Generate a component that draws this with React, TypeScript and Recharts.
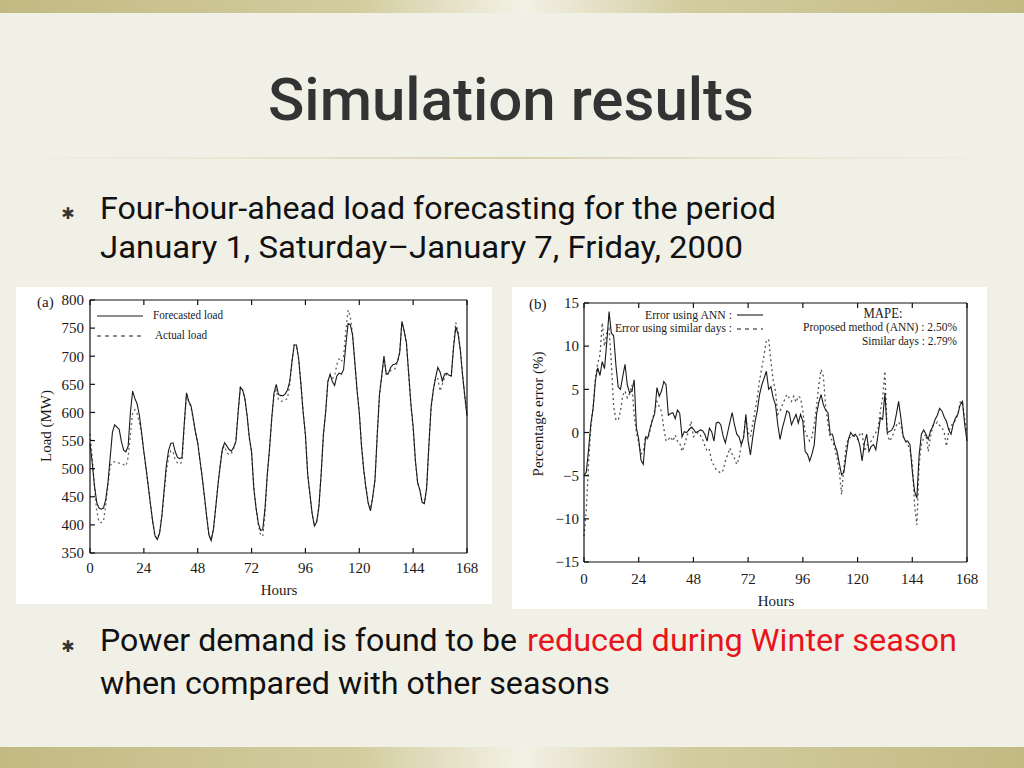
import React from 'react';
import { LineChart, Line, XAxis, YAxis } from 'recharts';

// ---------- data ----------
const HOUR_TICKS = [0, 24, 48, 72, 96, 120, 144, 168];
const LOAD_TICKS = [350, 400, 450, 500, 550, 600, 650, 700, 750, 800];
const ERROR_TICKS = [-15, -10, -5, 0, 5, 10, 15];

// hourly values, hour 0 .. 168
const FORECASTED_LOAD = [
  545, 510, 470, 440, 430, 428, 430, 445, 475, 520, 565, 578, 574, 570, 548, 533, 530, 540, 600, 638, 625, 615, 595, 564, 530,
  500, 468, 435, 404, 380, 374, 385, 415, 460, 505, 532, 545, 546, 530, 520, 518, 520, 580, 635, 620, 612, 590, 565, 546,
  515, 485, 450, 415, 382, 372, 392, 430, 470, 505, 535, 546, 540, 534, 531, 538, 548, 600, 645, 640, 625, 595, 555, 530,
  465, 430, 403, 390, 392, 430, 490, 535, 590, 635, 650, 632, 630, 630, 633, 640, 655, 690, 720, 720, 695, 650, 600, 560,
  490, 455, 420, 398, 405, 432, 490, 560, 600, 655, 668, 655, 648, 665, 670, 668, 676, 720, 758, 756, 738, 690, 640, 600,
  540, 497, 465, 438, 425, 450, 480, 560, 632, 665, 700, 668, 670, 680, 685, 686, 690, 706, 762, 745, 724, 670, 615, 575,
  515, 475, 462, 440, 438, 465, 540, 610, 640, 662, 680, 672, 656, 668, 670, 666, 665, 715, 752, 740, 712, 668, 630, 594,
];

const ACTUAL_LOAD = [
  562, 520, 465, 425, 405, 404, 406, 435, 470, 505, 512, 512, 511, 510, 510, 507, 505, 520, 560, 600, 605, 598, 582, 560, 530,
  500, 468, 435, 404, 380, 376, 386, 415, 455, 495, 520, 532, 530, 515, 510, 508, 512, 575, 632, 618, 610, 588, 565, 546,
  515, 485, 450, 415, 382, 374, 392, 430, 470, 505, 535, 540, 528, 525, 527, 535, 548, 600, 645, 640, 625, 595, 555, 530,
  465, 430, 400, 382, 380, 420, 488, 535, 590, 630, 640, 622, 620, 620, 622, 625, 650, 690, 720, 718, 695, 650, 600, 560,
  490, 455, 420, 398, 405, 432, 490, 560, 600, 655, 665, 660, 665, 685, 695, 690, 700, 745, 782, 770, 740, 690, 640, 600,
  540, 497, 465, 440, 428, 450, 480, 560, 630, 665, 700, 668, 668, 675, 676, 678, 690, 706, 760, 745, 724, 670, 612, 570,
  512, 475, 462, 440, 438, 465, 540, 608, 640, 662, 660, 638, 650, 662, 668, 666, 665, 720, 760, 745, 712, 668, 630, 594,
];

const ERROR_ANN = [
  -5.0, -4.6, -2.0, 1.0, 2.8, 6.0, 7.5, 6.6, 8.2, 7.4, 10.5, 14.0, 11.5, 11.2, 7.8, 5.3, 5.0, 6.5, 7.9, 5.5, 4.6, 4.8, 6.1, 0.5, -0.8,
  -3.2, -3.7, -0.5, -0.6, 0.5, 1.4, 2.2, 5.2, 4.2, 4.8, 5.9, 5.5, 2.0, 2.2, 2.3, 1.6, 2.6, 2.2, -0.5, 0.1, 0.0, 0.3, 0.6, 0.4,
  0.0, 0.1, 0.3, 0.2, -0.2, -1.0, 0.5, 0.1, -1.0, 1.1, 1.2, 0.9, -0.4, -1.2, 0.0, 1.2, 2.3, 0.9, -0.2, -0.5, -1.4, -0.6, 2.1, -1.0,
  -2.6, -0.6, 1.2, 2.5, 4.4, 5.5, 6.3, 7.1, 5.0, 5.3, 4.0, 3.2, 0.9, -0.8, 0.5, 1.5, 2.5, 2.3, 0.9, 1.5, 2.1, 1.1, 2.1, 1.3,
  -2.2, -2.5, -3.3, -2.5, -1.4, 2.1, 3.5, 4.4, 3.2, 2.6, 2.3, -0.2, -0.2, -1.4, -2.2, -3.6, -4.9, -4.6, -2.6, -0.8, 0.0, -0.4, -0.2, -0.6,
  -1.5, -3.3, -1.2, -0.2, -2.2, -1.6, -1.4, -2.0, -0.2, 1.7, 1.5, 4.6, 0.0, 0.1, 0.3, 0.8, 2.1, 3.6, 1.7, -0.4, -1.0, -1.0, -1.4, -4.5,
  -6.8, -7.6, -2.6, -0.2, 0.3, -0.2, -0.8, 0.2, 0.7, 1.5, 2.0, 2.8, 2.5, 1.8, 1.3, 0.3, -0.2, 1.0, 1.7, 2.1, 3.2, 3.6, 0.9, -1.0,
];

const ERROR_SIMILAR = [
  -12.0, -9.0, -3.5, 0.5, 3.0, 6.3, 8.0, 9.0, 12.7, 10.0, 11.5, 12.0, 8.0, 3.0, 1.5, 1.4, 2.5, 4.3, 4.8, 4.0, 4.5, 5.5, 2.0, 0.0, -1.2,
  -2.5, -2.2, -0.5, -0.8, 0.3, 1.5, 2.5, 3.6, 3.0, 2.4, 0.5, -1.0, -0.8, -0.5, -1.0, -0.3, -1.0, -1.2, -2.2, -1.5, -0.6, 0.3, 1.3, -0.5,
  -0.2, 0.0, -0.3, -0.8, -1.5, -2.2, -2.0, -3.3, -3.8, -4.3, -4.5, -4.7, -4.4, -3.3, -2.6, -1.8, -2.5, -3.0, -3.7, -3.0, -1.4, -0.5, 1.7, 0.0,
  -0.5, 1.0, 2.5, 4.0, 6.0, 7.5, 9.0, 10.6, 10.8, 8.2, 6.0, 4.8, 2.1, 2.5, 3.2, 3.8, 4.4, 4.0, 3.6, 4.2, 3.5, 4.2, 4.0, 2.5,
  0.1, -0.5, -1.0, -0.5, 1.0, 3.0, 5.5, 7.3, 6.5, 3.0, 1.0, -0.6, -1.0, -1.8, -3.0, -4.5, -7.2, -4.0, -1.5, -0.6, -0.6, -0.4, -0.5, -0.8,
  -0.2, 0.0, -2.2, -1.5, -1.2, -1.0, -0.5, 0.0, 0.5, 2.5, 4.0, 7.1, 0.0, -1.0, -0.6, 0.1, 0.8, 1.2, 0.8, -0.5, -1.0, -1.4, -2.0, -3.5,
  -8.4, -10.7, -3.7, -1.4, -0.6, -0.2, -2.2, -0.5, 0.8, 0.9, 1.2, 0.8, 0.6, 0.0, -1.6, 0.1, 0.8, 1.0, 1.5, 2.1, 3.5, 3.6, 1.5, 0.0,
];

const loadData = FORECASTED_LOAD.map((v, i) => ({ hour: i, forecast: v, actual: ACTUAL_LOAD[i] }));
const errorData = ERROR_ANN.map((v, i) => ({ hour: i, ann: v, similar: ERROR_SIMILAR[i] }));

// ---------- styles ----------
const SERIF = '"Liberation Serif", "DejaVu Serif", serif';
const SANS = 'Roboto, "Liberation Sans", sans-serif';
const tickStyle = { fill: '#1a1a1a', fontSize: 15, fontFamily: SERIF };
const minus = (v: number) => String(v).replace('-', '\u2212');
const blank = () => '';

function LoadChart() {
  return (
    <LineChart width={476} height={317} data={loadData} margin={{ top: 8, right: 20, bottom: 21, left: 20 }}>
      <XAxis xAxisId="b" dataKey="hour" type="number" domain={[0, 168]} ticks={HOUR_TICKS} interval={0}
        tickSize={-5} tickMargin={14} height={30} stroke="#111" strokeWidth={1.2} tick={tickStyle} />
      <XAxis xAxisId="t" orientation="top" dataKey="hour" type="number" domain={[0, 168]} ticks={HOUR_TICKS} interval={0}
        tickSize={-5} height={5} stroke="#111" strokeWidth={1.2} tickFormatter={blank} />
      <YAxis yAxisId="l" type="number" domain={[350, 800]} ticks={LOAD_TICKS} interval={0}
        tickSize={-5} tickMargin={11} width={54} stroke="#111" strokeWidth={1.2} tick={tickStyle} />
      <YAxis yAxisId="r" orientation="right" type="number" domain={[350, 800]} ticks={LOAD_TICKS} interval={0}
        tickSize={-5} width={5} stroke="#111" strokeWidth={1.2} tickFormatter={blank} />
      <Line xAxisId="b" yAxisId="l" type="linear" dataKey="actual" stroke="#666" strokeWidth={1.3}
        strokeDasharray="2 3" dot={false} isAnimationActive={false} />
      <Line xAxisId="b" yAxisId="l" type="linear" dataKey="forecast" stroke="#1a1a1a" strokeWidth={1.1}
        dot={false} isAnimationActive={false} />
    </LineChart>
  );
}

function ErrorChart() {
  return (
    <LineChart width={475} height={322} data={errorData} margin={{ top: 11, right: 15, bottom: 17, left: 18 }}>
      <XAxis xAxisId="b" dataKey="hour" type="number" domain={[0, 168]} ticks={HOUR_TICKS} interval={0}
        tickSize={-5} tickMargin={16} height={30} stroke="#111" strokeWidth={1.2} tick={tickStyle} />
      <XAxis xAxisId="t" orientation="top" dataKey="hour" type="number" domain={[0, 168]} ticks={HOUR_TICKS} interval={0}
        tickSize={-5} height={5} stroke="#111" strokeWidth={1.2} tickFormatter={blank} />
      <YAxis yAxisId="l" type="number" domain={[-15, 15]} ticks={ERROR_TICKS} interval={0}
        tickSize={-5} tickMargin={10} width={54} stroke="#111" strokeWidth={1.2} tick={tickStyle} tickFormatter={minus} />
      <YAxis yAxisId="r" orientation="right" type="number" domain={[-15, 15]} ticks={ERROR_TICKS} interval={0}
        tickSize={-5} width={5} stroke="#111" strokeWidth={1.2} tickFormatter={blank} />
      <Line xAxisId="b" yAxisId="l" type="linear" dataKey="similar" stroke="#555" strokeWidth={1.3}
        strokeDasharray="2 3" dot={false} isAnimationActive={false} />
      <Line xAxisId="b" yAxisId="l" type="linear" dataKey="ann" stroke="#1a1a1a" strokeWidth={1.1}
        dot={false} isAnimationActive={false} />
    </LineChart>
  );
}

export default function App() {
  return (
    <div style={{ position: 'absolute', left: 0, top: 0, width: 1024, height: 768, overflow: 'hidden', background: '#f1f0e7' }}>
      <svg width={1024} height={768} style={{ position: 'absolute', left: 0, top: 0 }}>
        <defs>
          <linearGradient id="bar" x1="0" x2="1" y1="0" y2="0">
            <stop offset="0" stopColor="#c2ba82" />
            <stop offset="0.35" stopColor="#d3cc9f" />
            <stop offset="0.51" stopColor="#f3f1e6" />
            <stop offset="0.67" stopColor="#d3cc9f" />
            <stop offset="1" stopColor="#c2ba82" />
          </linearGradient>
          <linearGradient id="rule" x1="0" x2="1" y1="0" y2="0">
            <stop offset="0" stopColor="#e6e2cc" stopOpacity="0.2" />
            <stop offset="0.5" stopColor="#d6d0ac" />
            <stop offset="1" stopColor="#e6e2cc" stopOpacity="0.2" />
          </linearGradient>
        </defs>
        <rect x={0} y={0} width={1024} height={13} fill="url(#bar)" />
        <rect x={0} y={747} width={1024} height={21} fill="url(#bar)" />
        <rect x={49} y={157} width={925} height={2} fill="url(#rule)" />
        <rect x={16} y={287} width={476} height={317} fill="#ffffff" />
        <rect x={512} y={287} width={475} height={322} fill="#ffffff" />
      </svg>

      <div style={{ position: 'absolute', left: 16, top: 287 }}>
        <LoadChart />
      </div>
      <div style={{ position: 'absolute', left: 512, top: 287 }}>
        <ErrorChart />
      </div>

      <svg width={1024} height={768} style={{ position: 'absolute', left: 0, top: 0, pointerEvents: 'none' }}>
        <text x={511} y={120} textAnchor="middle" fontFamily={SANS} fontWeight={500} fontSize={59} fill="#333"
          textLength={486} lengthAdjust="spacingAndGlyphs">Simulation results</text>

        <text x={68} y={219} textAnchor="middle" fontFamily='"DejaVu Sans", sans-serif' fontSize={16} fill="#333">✱</text>
        <text x={100} y={219} fontFamily={SANS} fontSize={31} fill="#111" textLength={676} lengthAdjust="spacingAndGlyphs">
          Four-hour-ahead load forecasting for the period</text>
        <text x={100} y={258} fontFamily={SANS} fontSize={31} fill="#111" textLength={643} lengthAdjust="spacingAndGlyphs">
          January 1, Saturday–January 7, Friday, 2000</text>

        <text x={68} y={652} textAnchor="middle" fontFamily='"DejaVu Sans", sans-serif' fontSize={16} fill="#333">✱</text>
        <text x={100} y={651} fontFamily={SANS} fontSize={31} fill="#111" textLength={417} lengthAdjust="spacingAndGlyphs">
          Power demand is found to be</text>
        <text x={527} y={651} fontFamily={SANS} fontSize={31} fill="#e8141b" textLength={430} lengthAdjust="spacingAndGlyphs">
          reduced during Winter season</text>
        <text x={100} y={694} fontFamily={SANS} fontSize={31} fill="#111" textLength={510} lengthAdjust="spacingAndGlyphs">
          when compared with other seasons</text>

        {/* chart (a) labels */}
        <text x={37} y={307} fontFamily={SERIF} fontSize={15} fill="#1a1a1a">(a)</text>
        <text x={0} y={0} transform="translate(51 426) rotate(-90)" textAnchor="middle" fontFamily={SERIF} fontSize={15} fill="#1a1a1a">Load (MW)</text>
        <text x={279} y={595} textAnchor="middle" fontFamily={SERIF} fontSize={15} fill="#1a1a1a">Hours</text>
        <line x1={97} x2={143} y1={316} y2={316} stroke="#1a1a1a" strokeWidth={1.1} />
        <text x={153} y={319} fontFamily={SERIF} fontSize={12} fill="#1a1a1a" textLength={70} lengthAdjust="spacingAndGlyphs">Forecasted load</text>
        <line x1={97} x2={143} y1={336} y2={336} stroke="#1a1a1a" strokeWidth={1.1} strokeDasharray="4 4" />
        <text x={155} y={339} fontFamily={SERIF} fontSize={12} fill="#1a1a1a" textLength={52} lengthAdjust="spacingAndGlyphs">Actual load</text>

        {/* chart (b) labels */}
        <text x={529} y={309} fontFamily={SERIF} fontSize={15} fill="#1a1a1a">(b)</text>
        <text x={0} y={0} transform="translate(543 414) rotate(-90)" textAnchor="middle" fontFamily={SERIF} fontSize={15} fill="#1a1a1a">Percentage error (%)</text>
        <text x={776} y={606} textAnchor="middle" fontFamily={SERIF} fontSize={15} fill="#1a1a1a">Hours</text>
        <text x={732} y={319} textAnchor="end" fontFamily={SERIF} fontSize={12.5} fill="#1a1a1a" textLength={87} lengthAdjust="spacingAndGlyphs">Error using ANN :</text>
        <line x1={737} x2={763} y1={315} y2={315} stroke="#1a1a1a" strokeWidth={1.1} />
        <text x={732} y={332} textAnchor="end" fontFamily={SERIF} fontSize={12.5} fill="#1a1a1a" textLength={117} lengthAdjust="spacingAndGlyphs">Error using similar days :</text>
        <line x1={737} x2={763} y1={329} y2={329} stroke="#1a1a1a" strokeWidth={1.1} strokeDasharray="4 4" />
        <text x={883} y={318} textAnchor="middle" fontFamily={SERIF} fontSize={14} fill="#1a1a1a" textLength={39} lengthAdjust="spacingAndGlyphs">MAPE:</text>
        <text x={957} y={331} textAnchor="end" fontFamily={SERIF} fontSize={12.5} fill="#1a1a1a" textLength={154} lengthAdjust="spacingAndGlyphs">Proposed method (ANN) : 2.50%</text>
        <text x={957} y={345} textAnchor="end" fontFamily={SERIF} fontSize={12.5} fill="#1a1a1a" textLength={95} lengthAdjust="spacingAndGlyphs">Similar days : 2.79%</text>
      </svg>
    </div>
  );
}
